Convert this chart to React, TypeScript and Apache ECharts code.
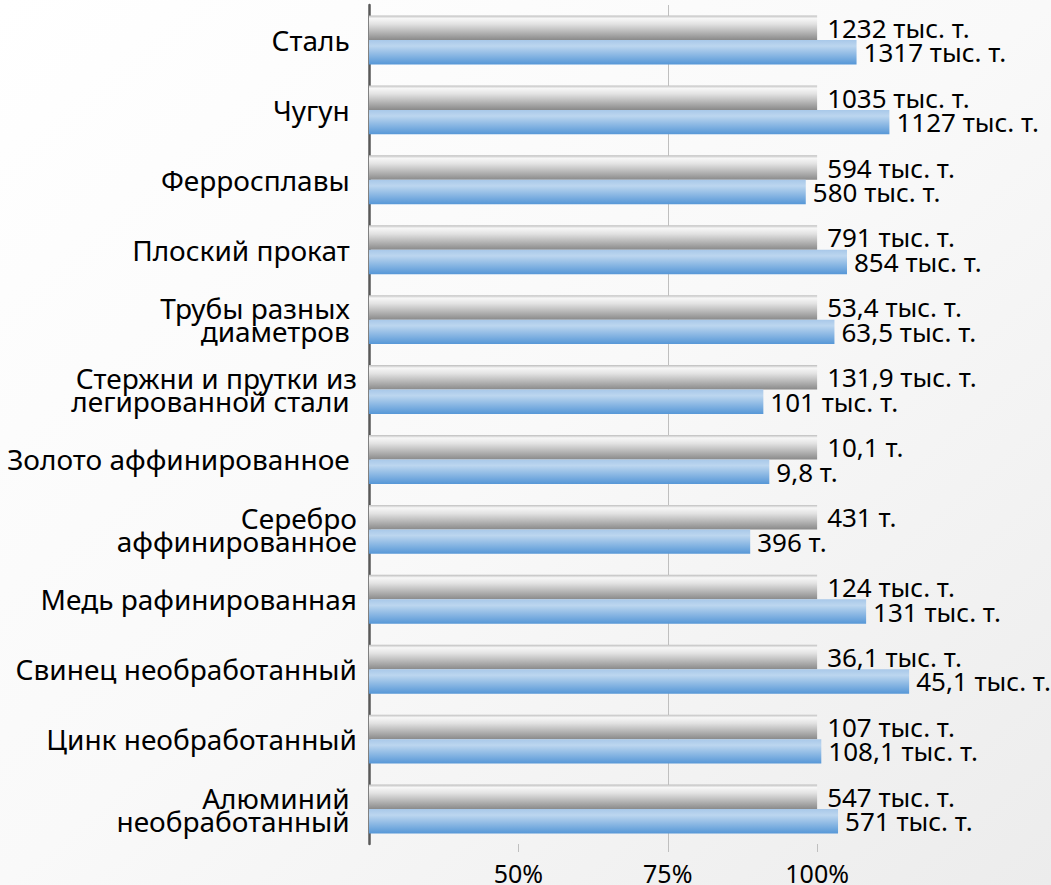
import React, { useEffect, useRef } from "react";
import * as echarts from "echarts";

const categories = [
  "Сталь ",
  "Чугун ",
  "Ферросплавы ",
  "Плоский прокат ",
  "Трубы разных \nдиаметров ",
  "Стержни и прутки из\nлегированной стали ",
  "Золото аффинированное ",
  "Серебро\nаффинированное",
  "Медь рафинированная",
  "Свинец необработанный",
  "Цинк необработанный",
  "Алюминий \nнеобработанный ",
];

const prevPct = [100, 100, 100, 100, 100, 100, 100, 100, 100, 100, 100, 100];
const currPct = [106.6, 112.1, 98.1, 105, 102.9, 91, 92, 88.8, 108.2, 115.4, 100.7, 103.5];

const prevLabels = [
  "1232 тыс. т.",
  "1035 тыс. т.",
  "594 тыс. т.",
  "791 тыс. т.",
  "53,4 тыс. т.",
  "131,9 тыс. т.",
  "10,1 т.",
  "431 т.",
  "124 тыс. т.",
  "36,1 тыс. т.",
  "107 тыс. т.",
  "547 тыс. т.",
];
const currLabels = [
  "1317 тыс. т.",
  "1127 тыс. т.",
  "580 тыс. т.",
  "854 тыс. т.",
  "63,5 тыс. т.",
  "101 тыс. т.",
  "9,8 т.",
  "396 т.",
  "131 тыс. т.",
  "45,1 тыс. т.",
  "108,1 тыс. т.",
  "571 тыс. т.",
];

const xTicks = [50, 75, 100];

const FONT = "'Noto Sans', sans-serif";

export default function App() {
  const ref = useRef<HTMLDivElement>(null);

  useEffect(() => {
    if (!ref.current) return;
    const chart = echarts.init(ref.current, null, { renderer: "svg" });
    const greyGrad = new echarts.graphic.LinearGradient(0, 0, 0, 1, [
      { offset: 0, color: "#bdbdbd" },
      { offset: 0.12, color: "#f7f7f7" },
      { offset: 0.35, color: "#e2e2e2" },
      { offset: 1, color: "#8a8a8a" },
    ]);
    const blueGrad = new echarts.graphic.LinearGradient(0, 0, 0, 1, [
      { offset: 0, color: "#a8c8e9" },
      { offset: 0.25, color: "#bcd6ef" },
      { offset: 1, color: "#5697d7" },
    ]);
    chart.setOption({
      animation: false,
      backgroundColor: new echarts.graphic.LinearGradient(0, 0, 1, 1, [
        { offset: 0, color: "#ffffff" },
        { offset: 0.5, color: "#f9f9f9" },
        { offset: 1, color: "#ececec" },
      ]),
      grid: { left: 369, right: 84.5, top: 5, bottom: 40, containLabel: false },
      xAxis: {
        type: "value",
        min: 25,
        max: 125,
        interval: 25,
        axisLine: { show: false },
        axisTick: {
          show: true,
          length: 8,
          customValues: xTicks,
          lineStyle: { color: "#bfbfbf" },
        },
        splitLine: {
          show: true,
          showMinLine: false,
          showMaxLine: false,
          lineStyle: { color: "#bfbfbf", width: 1 },
        },
        axisLabel: {
          customValues: xTicks,
          formatter: (v: number) => (xTicks.indexOf(v) >= 0 ? v + "%" : ""),
          color: "#000",
          fontFamily: FONT,
          fontSize: 25,
          margin: 16,
        },
      },
      yAxis: {
        type: "category",
        inverse: true,
        data: categories,
        axisLine: { show: true, lineStyle: { color: "#595959", width: 2.5 } },
        axisTick: { show: false },
        splitLine: { show: false },
        axisLabel: {
          color: "#000",
          fontFamily: FONT,
          fontSize: 28,
          lineHeight: 23,
          margin: 12,
        },
      },
      series: [
        {
          name: "Предыдущий период",
          type: "bar",
          data: prevPct,
          barGap: "0%",
          barCategoryGap: "30%",
          itemStyle: { color: greyGrad },
          label: {
            show: true,
            position: "right",
            distance: 10,
            color: "#000",
            fontFamily: FONT,
            fontSize: 26,
            formatter: (p: any) => prevLabels[p.dataIndex],
          },
        },
        {
          name: "Текущий период",
          type: "bar",
          data: currPct,
          itemStyle: { color: blueGrad },
          label: {
            show: true,
            position: "right",
            distance: 7,
            color: "#000",
            fontFamily: FONT,
            fontSize: 26,
            formatter: (p: any) => currLabels[p.dataIndex],
          },
        },
      ],
    });
    return () => chart.dispose();
  }, []);

  return (
    <div
      ref={ref}
      style={{ position: "fixed", left: 0, top: 0, width: 1051, height: 885 }}
    />
  );
}
